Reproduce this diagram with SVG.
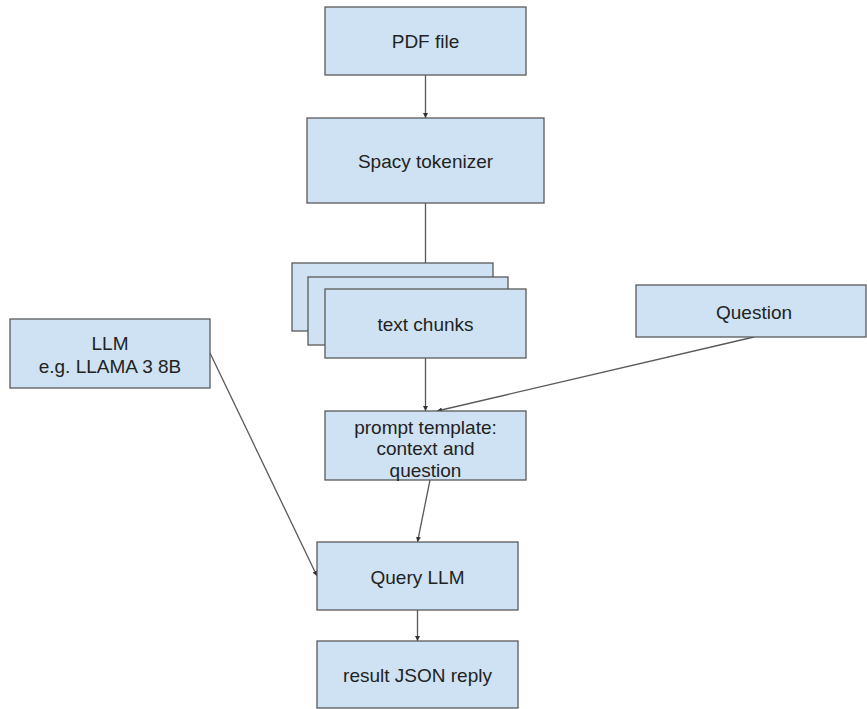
<svg xmlns="http://www.w3.org/2000/svg" width="867" height="709" viewBox="0 0 867 709">
<defs>
<marker id="ah" viewBox="0 0 10 10" refX="10" refY="5" markerWidth="5" markerHeight="5" orient="auto" markerUnits="userSpaceOnUse">
<path d="M0,0 L10,5 L0,10 z" fill="#333"/>
</marker>
</defs>
<style>
.box{fill:#cfe2f3;stroke:#595959;stroke-width:1.3}
.t{font-family:"Liberation Sans",Arial,sans-serif;font-size:19px;fill:#222;text-anchor:middle;dominant-baseline:central}
.c{stroke:#595959;stroke-width:1.3;fill:none}
.a{marker-end:url(#ah)}
</style>
<rect width="867" height="709" fill="#fff"/>
<g id="connectors">
<line class="c a" x1="425.5" y1="75" x2="425.5" y2="118"/>
<line class="c" x1="425.5" y1="203" x2="425.5" y2="263"/>
<line class="c a" x1="425.5" y1="358" x2="425.5" y2="411"/>
<line class="c a" x1="754" y1="337" x2="437" y2="411"/>
<line class="c a" x1="210" y1="353" x2="317" y2="576"/>
<line class="c a" x1="430" y1="480" x2="417.5" y2="542"/>
<line class="c a" x1="417.5" y1="610" x2="417.5" y2="641"/>
</g>
<g id="pdf"><rect class="box" x="325" y="7" width="201" height="68"/><text class="t" x="425.5" y="41">PDF file</text></g>
<g id="spacy"><rect class="box" x="307" y="118" width="237" height="85"/><text class="t" x="425.5" y="161">Spacy tokenizer</text></g>
<g id="chunks">
<rect class="box" x="292" y="263" width="201" height="68"/>
<rect class="box" x="308" y="277" width="200" height="68"/>
<rect class="box" x="325" y="289" width="201" height="69"/>
<text class="t" x="425.5" y="324">text chunks</text>
</g>
<g id="question"><rect class="box" x="636" y="285" width="230" height="52"/><text class="t" x="754" y="312">Question</text></g>
<g id="llm"><rect class="box" x="10" y="319" width="200" height="69"/><text class="t" x="110" y="343">LLM</text><text class="t" x="110" y="366">e.g. LLAMA 3 8B</text></g>
<g id="prompt"><rect class="box" x="325" y="411" width="201" height="69"/><text class="t" x="425.5" y="427">prompt template:</text><text class="t" x="425.5" y="448">context and</text><text class="t" x="425.5" y="470">question</text></g>
<g id="query"><rect class="box" x="317" y="542" width="201" height="68"/><text class="t" x="417.5" y="577">Query LLM</text></g>
<g id="result"><rect class="box" x="317" y="641" width="201" height="67"/><text class="t" x="417.5" y="675">result JSON reply</text></g>
</svg>
